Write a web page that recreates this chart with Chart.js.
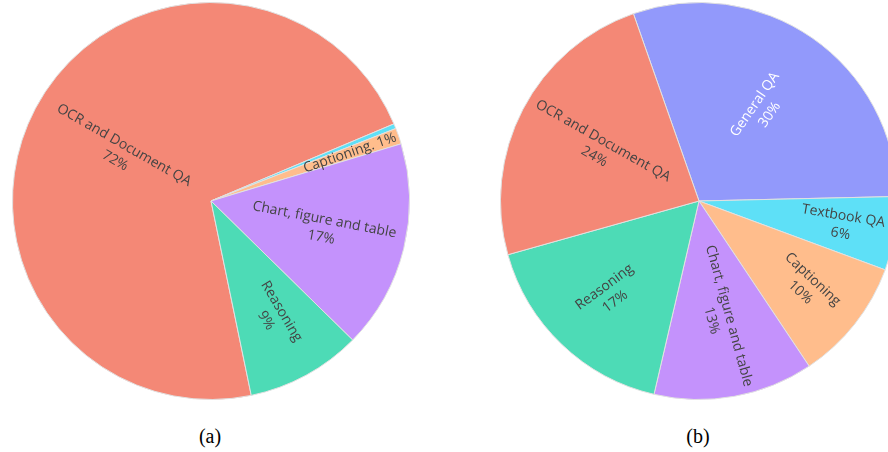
<!DOCTYPE html>
<html>
<head>
<meta charset="utf-8">
<script src="https://cdn.jsdelivr.net/npm/chart.js@4/dist/chart.umd.min.js"></script>
<style>
  body { margin: 0; width: 888px; height: 452px; overflow: hidden; position: relative; background: #fff; }
  canvas { position: absolute; top: 2px; }
  #pieA { left: 12px; }
  #pieB { left: 500px; }
  .caption { position: absolute; top: 424px; width: 60px; margin-left: -30px; text-align: center;
    font-family: "Liberation Serif", serif; font-size: 20px; line-height: 24px; color: #000; }
</style>
</head>
<body>
<canvas id="pieA" width="398" height="398"></canvas>
<canvas id="pieB" width="398" height="398"></canvas>
<div class="caption" style="left: 210px;">(a)</div>
<div class="caption" style="left: 698px;">(b)</div>
<script>
// (a)
const labelsA = ["OCR and Document QA", "Textbook QA", "Captioning", "Chart, figure and table", "Reasoning"];
const valuesA = [71.9, 0.4, 1.3, 17.0, 9.4];

// (b)
const labelsB = ["General QA", "Textbook QA", "Captioning", "Chart, figure and table", "Reasoning", "OCR and Document QA"];
const valuesB = [30, 6, 10, 13, 17, 24];

const palette = {
  "General QA": "#9299fb",
  "OCR and Document QA": "#f48876",
  "Reasoning": "#4ddbb6",
  "Chart, figure and table": "#c492fc",
  "Captioning": "#ffbd8c",
  "Textbook QA": "#5ee0f7",
};

// draws plotly-like radial text inside each slice
const sliceText = {
  id: "sliceText",
  afterDatasetsDraw(chart, args, opts) {
    const ctx = chart.ctx;
    const meta = chart.getDatasetMeta(0);
    const values = chart.data.datasets[0].data;
    const total = values.reduce((a, b) => a + b, 0);
    meta.data.forEach(function (arc, i) {
      const frac = opts.radius[i];
      if (!frac) return;
      const pct = Math.round((values[i] / total) * 100) + "%";
      const name = chart.data.labels[i];
      const lines = opts.oneLine.includes(i) ? [name + ". " + pct] : [name, pct];
      const mid = (arc.startAngle + arc.endAngle) / 2;
      const r = arc.outerRadius * frac;
      let rot = mid + ((opts.tilt[i] || 0) * Math.PI) / 180;
      if (Math.cos(mid) < 0) rot += Math.PI;
      ctx.save();
      ctx.translate(arc.x + Math.cos(mid) * r, arc.y + Math.sin(mid) * r);
      ctx.rotate(rot);
      ctx.font = "14px 'Open Sans'";
      ctx.textAlign = "center";
      ctx.textBaseline = "middle";
      ctx.fillStyle = opts.white.includes(i) ? "#ffffff" : "#444444";
      const lh = 18;
      lines.forEach(function (line, k) {
        ctx.fillText(line, 0, (k - (lines.length - 1) / 2) * lh);
      });
      ctx.restore();
    });
  },
};

function drawPie(id, labels, values, rotation, textOpts) {
  const ctx = document.getElementById(id).getContext("2d");
  return new Chart(ctx, {
    type: "pie",
    data: {
      labels: labels,
      datasets: [
        {
          data: values,
          backgroundColor: labels.map((l) => palette[l]),
          borderColor: "rgba(225,225,225,1)",
          borderWidth: 1,
        },
      ],
    },
    options: {
      responsive: false,
      animation: false,
      events: [],
      rotation: rotation,
      layout: { padding: 0 },
      plugins: {
        legend: { display: false },
        tooltip: { enabled: false },
        sliceText: textOpts,
      },
    },
    plugins: [sliceText],
  });
}

drawPie("pieA", labelsA, valuesA, 168.3, {
  radius: [0.52, 0, 0.74, 0.58, 0.66],
  tilt: [2, 0, 0, -3, -2],
  oneLine: [2],
  white: [],
});
drawPie("pieB", labelsB, valuesB, -19.3, {
  radius: [0.56, 0.73, 0.69, 0.6, 0.65, 0.57],
  tilt: [0, 0, 5, -5, 10, 2],
  oneLine: [],
  white: [0],
});
</script>
</body>
</html>
